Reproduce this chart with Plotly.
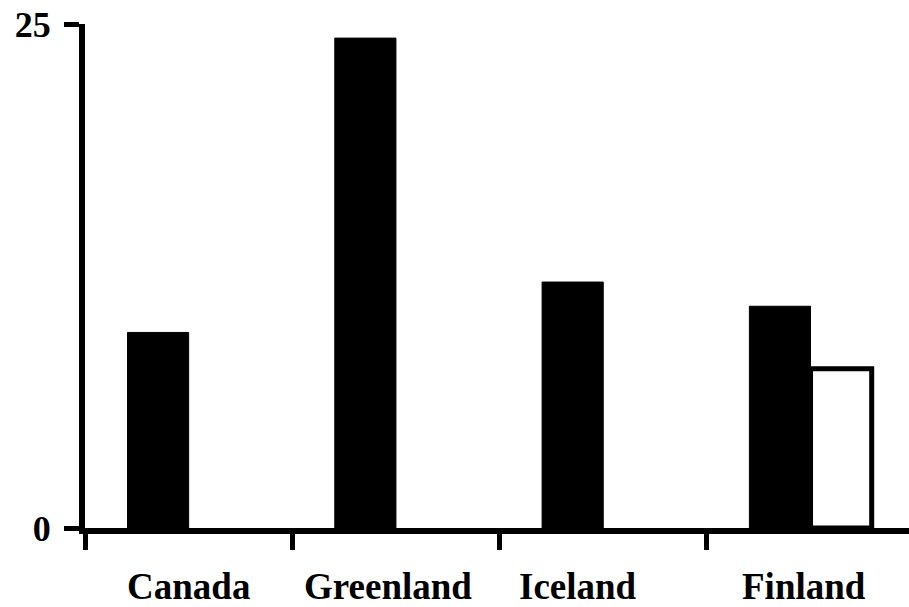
import plotly.graph_objects as go

categories = ["Canada", "Greenland", "Iceland", "Finland"]
series_black = [9.7, 24.3, 12.2, 11.0]
series_white = [None, None, None, 7.9]
y_tick_vals = [0, 25]
y_tick_text = ["0", "25"]

# horizontal nudges of category labels (px), matching the reference typesetting
label_shift = [0, -8, -25, -7]

fig = go.Figure()
fig.add_trace(go.Bar(x=categories, y=series_black, marker=dict(color="black", line=dict(color="black", width=1)), showlegend=False))
fig.add_trace(go.Bar(x=categories, y=series_white, marker=dict(color="white", line=dict(color="black", width=5)), showlegend=False))

yfont = dict(family="Liberation Serif", size=36, color="black", weight="bold")
xfont = dict(family="Liberation Serif", size=37, color="black", weight="bold")

for cat, dx in zip(categories, label_shift):
    fig.add_annotation(x=cat, y=0, xref="x", yref="y", text="<b>" + cat + "</b>", showarrow=False,
                       xanchor="center", yanchor="top", xshift=dx, yshift=-36, font=xfont)

fig.update_layout(
    width=909, height=607,
    margin=dict(l=85, r=0, t=24, b=79),
    paper_bgcolor="white", plot_bgcolor="white",
    barmode="group", bargap=0.41, bargroupgap=0,
    font=yfont,
    xaxis=dict(
        type="category", range=[-0.5, 3.475], automargin=False,
        tickson="boundaries", ticks="outside", ticklen=16, tickwidth=5, tickcolor="black",
        showline=True, linewidth=6, linecolor="black",
        showgrid=False, zeroline=False, showticklabels=False,
    ),
    yaxis=dict(
        range=[0, 25], tickvals=y_tick_vals,
        ticktext=["<b>" + t + "</b>" for t in y_tick_text], automargin=False,
        ticks="outside", ticklen=15, tickwidth=5, tickcolor="black",
        showline=True, linewidth=6, linecolor="black",
        showgrid=False, zeroline=False,
        tickfont=yfont, ticklabelstandoff=6, ticklabeloverflow="allow",
    ),
)

fig.write_html("out.html", config={"displayModeBar": False},
               post_script="document.body.style.margin='0';document.body.style.overflow='hidden';")
